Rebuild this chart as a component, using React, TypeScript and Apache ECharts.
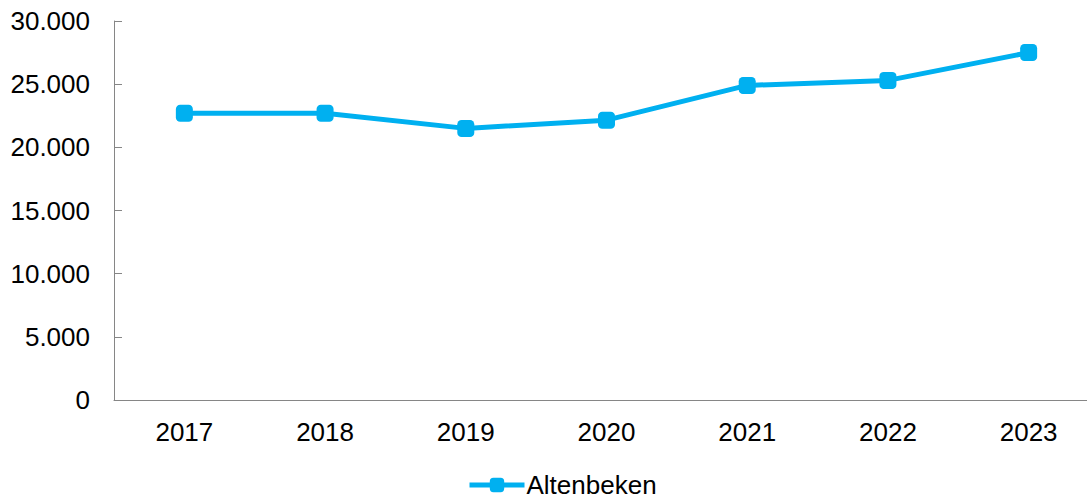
import React, { useEffect, useRef } from "react";
import * as echarts from "echarts";

const categories = ["2017", "2018", "2019", "2020", "2021", "2022", "2023"];
const seriesName = "Altenbeken";
const values = [22700, 22700, 21500, 22150, 24900, 25300, 27500];
const yMin = 0;
const yMax = 30000;
const yInterval = 5000;

const fmt = (v: number) => {
  const s = String(Math.round(v));
  return s.replace(/\B(?=(\d{3})+(?!\d))/g, ".");
};

export default function App() {
  const ref = useRef<HTMLDivElement>(null);
  useEffect(() => {
    if (!ref.current) return;
    const chart = echarts.init(ref.current, undefined, { renderer: "svg" });
    const font = "'Liberation Sans', Arial, sans-serif";
    chart.setOption({
      animation: false,
      backgroundColor: "#ffffff",
      textStyle: { fontFamily: font },
      grid: {
        left: 114,
        top: 21,
        width: 985,
        height: 379,
        containLabel: false,
        outerBoundsMode: "none",
      },
      legend: {
        data: [seriesName],
        left: 467,
        top: 472,
        padding: 0,
        itemWidth: 55,
        itemHeight: 18,
        itemGap: 5,
        lineStyle: { width: 5 },
        textStyle: {
          fontFamily: font,
          fontSize: 26,
          lineHeight: 22,
          color: "#000000",
          padding: [0, 0, 0, -3],
        },
      },
      xAxis: {
        type: "category",
        data: categories,
        boundaryGap: true,
        axisLine: { lineStyle: { color: "#868686", width: 1 } },
        axisTick: { inside: true, length: 7, lineStyle: { color: "#868686" } },
        axisLabel: { fontFamily: font, fontSize: 26, color: "#000000", margin: 19 },
        splitLine: { show: false },
      },
      yAxis: {
        type: "value",
        min: yMin,
        max: yMax,
        interval: yInterval,
        axisLine: { show: true, lineStyle: { color: "#868686", width: 1 } },
        axisTick: { show: true, inside: true, length: 8, lineStyle: { color: "#868686" } },
        axisLabel: { fontFamily: font, fontSize: 26, color: "#000000", margin: 24, formatter: fmt },
        splitLine: { show: false },
      },
      series: [
        {
          name: seriesName,
          type: "line",
          data: values,
          symbol: "roundRect",
          symbolSize: 17,
          lineStyle: { color: "#00B0F0", width: 5 },
          itemStyle: { color: "#00B0F0" },
        },
      ],
    });
    return () => chart.dispose();
  }, []);
  return (
    <div
      ref={ref}
      style={{ position: "fixed", left: 0, top: 0, width: 1087, height: 499, background: "#fff" }}
    />
  );
}
